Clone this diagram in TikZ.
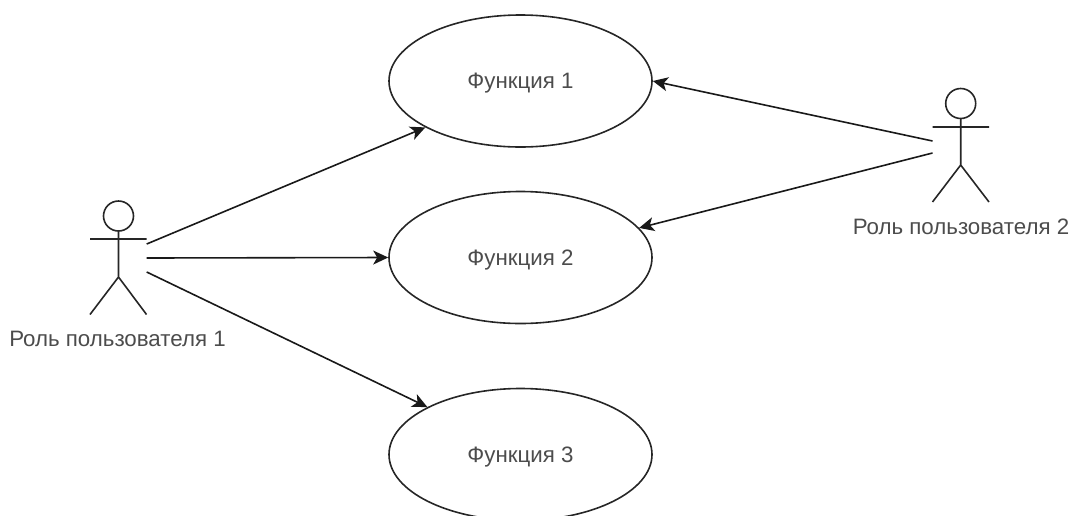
\documentclass[tikz,border=0pt]{standalone}
\usepackage{fontspec}
\setmainfont{Liberation Sans}
\usetikzlibrary{shapes.geometric,arrows.meta}
\tikzset{
  usecase/.style={draw=black!85,line width=1.6pt,ellipse,minimum width=263pt,minimum height=132pt,inner sep=0pt,text=black!70,font=\fontsize{22.3}{26}\selectfont,text height=18pt,text depth=2.5pt},
  actorbox/.style={inner sep=0pt,minimum width=56pt,minimum height=112pt},
  actorline/.style={draw=black!85,line width=1.6pt},
  rolelabel/.style={inner sep=0pt,text=black!70,font=\fontsize{22.3}{26}\selectfont},
  link/.style={draw=black!90,line width=1.6pt,-{Stealth[length=15pt,width=14pt,inset=4pt]}}
}
\begin{document}
\begin{tikzpicture}[x=1pt,y=-1pt]
\useasboundingbox (0,0) rectangle (1071,515);
\clip (0,0) rectangle (1071,515);
\node[usecase] (e1) at (520.5,81) {Функция 1};
\node[usecase] (e2) at (520.5,257.5) {Функция 2};
\node[usecase] (e3) at (520.5,454.5) {Функция 3};
\node[actorbox] (a1) at (118.5,258) {};
\node[actorbox] (a2) at (960.7,146.5) {};
\draw[actorline] (118.5,216) circle (15);
\draw[actorline] (118.5,231) -- (118.5,277) (90,239) -- (146.5,239) (90,314.5) -- (118.5,277) -- (146.5,314.5);
\draw[actorline] (960.7,103.5) circle (15);
\draw[actorline] (960.7,118.5) -- (960.7,165) (932.5,127) -- (989,127) (932.5,202) -- (960.7,165) -- (989,202);
\node[rolelabel] (l1) at (117.5,338.5) {Роль пользователя 1};
\node[rolelabel] (l2) at (961,227) {Роль пользователя 2};
\draw[link] ([yshift=14pt]a1.east) -- (e1.206.4);
\draw[link] (a1.east) -- (e2.west);
\draw[link] ([yshift=-14pt]a1.east) -- (e3.153.6);
\draw[link] ([yshift=5.5pt]a2.west) -- (e1.east);
\draw[link] ([yshift=-6.5pt]a2.west) -- (e2.14);
\end{tikzpicture}
\end{document}
